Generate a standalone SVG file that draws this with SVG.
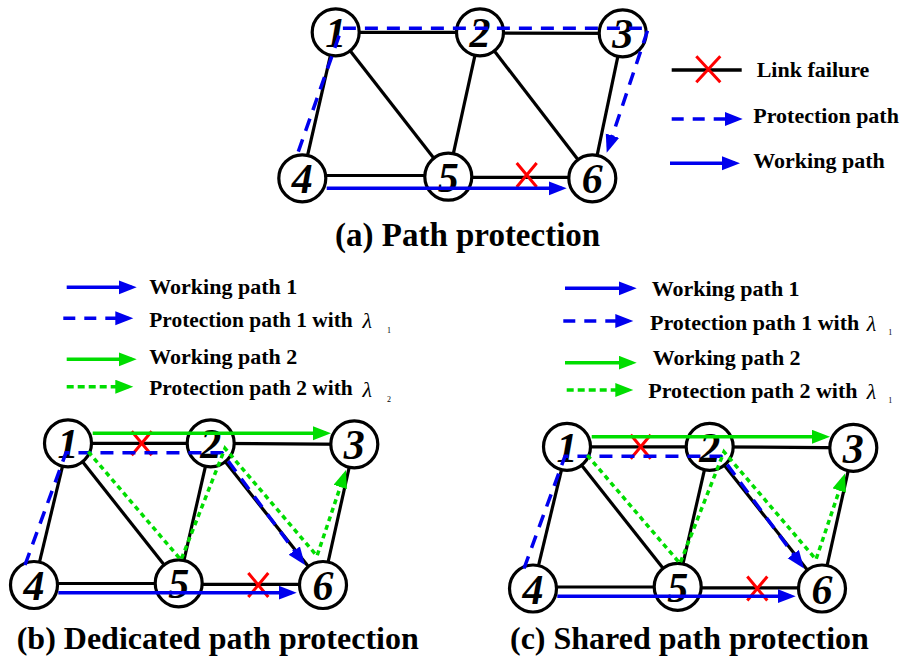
<svg xmlns="http://www.w3.org/2000/svg" width="904" height="657" viewBox="0 0 904 657" font-family="'Liberation Serif', 'Times New Roman', Times, 'DejaVu Serif', serif">
<defs>
<style>
.edge{stroke:#000;stroke-width:3.2;fill:none}
.node circle{fill:#fff;stroke:#000;stroke-width:3.2}
.node text{font-weight:bold;font-style:italic;font-size:42px;text-anchor:middle}
.wp1{stroke:#0000ee;stroke-width:3.5;fill:none}
.pp1{stroke:#0000ee;stroke-width:3.5;fill:none;stroke-dasharray:13 9}
.wp2{stroke:#00dd00;stroke-width:3.5;fill:none}
.pp2{stroke:#00dd00;stroke-width:3.5;fill:none;stroke-dasharray:5 4}
.lpp1{stroke:#0000ee;stroke-width:3.5;fill:none;stroke-dasharray:12 9}
.lpp2{stroke:#00dd00;stroke-width:3.5;fill:none;stroke-dasharray:7 4}
.fail{stroke:#ff0000;stroke-width:3;fill:none}
.lg{font-weight:bold;font-size:22px;fill:#000}
.lgs{font-weight:bold;font-size:21.4px;fill:#000}
.lam{font-style:italic;font-size:22px;fill:#000}
.sub{font-size:8px;fill:#000}
.title{font-weight:bold;font-size:32px;fill:#000}
</style>
<marker id="ab" markerUnits="userSpaceOnUse" markerWidth="20" markerHeight="16" refX="13" refY="7" orient="auto">
<path d="M0,0 L18,7 L0,14 z" fill="#0000ee"/>
</marker>
<marker id="ag" markerUnits="userSpaceOnUse" markerWidth="20" markerHeight="16" refX="13" refY="7" orient="auto">
<path d="M0,0 L18,7 L0,14 z" fill="#00dd00"/>
</marker>
</defs>

<!-- (a) Path protection -->
<g id="diagram-a">
<g id="a-links">
<line class="edge" x1="335.7" y1="32.3" x2="480" y2="32.3"/>
<line class="edge" x1="480" y1="33" x2="622.7" y2="33.3"/>
<line class="edge" x1="335.7" y1="32.3" x2="302.3" y2="178.3"/>
<line class="edge" x1="335.7" y1="32.3" x2="448.3" y2="176.7"/>
<line class="edge" x1="480" y1="32.3" x2="448.3" y2="176.7"/>
<line class="edge" x1="480" y1="32.3" x2="592.3" y2="178.3"/>
<line class="edge" x1="622.7" y1="33.3" x2="592.3" y2="178.3"/>
<line class="edge" x1="302.3" y1="175.5" x2="448.3" y2="175.5"/>
<line class="edge" x1="448.3" y1="177.3" x2="592.3" y2="177.3"/>
</g>
<g id="a-n1" class="node"><circle cx="335.7" cy="32.3" r="23.5"/><text x="335.7" y="47.3">1</text></g>
<g id="a-n2" class="node"><circle cx="480" cy="32.3" r="23.5"/><text x="480" y="47.3">2</text></g>
<g id="a-n3" class="node"><circle cx="622.7" cy="33.3" r="23.5"/><text x="622.7" y="48.3">3</text></g>
<g id="a-n4" class="node"><circle cx="302.3" cy="178.3" r="23.5"/><text x="302.3" y="193.3">4</text></g>
<g id="a-n5" class="node"><circle cx="448.3" cy="176.7" r="23.5"/><text x="448.3" y="191.7">5</text></g>
<g id="a-n6" class="node"><circle cx="592.3" cy="178.3" r="23.5"/><text x="592.3" y="193.3">6</text></g>
<g id="a-paths">
<path class="fail" d="M516.7,163 L536.7,187 M536.7,163 L516.7,187"/>
<path class="pp1" d="M298.3,151.7 L341.7,28.3 L648.3,28.3 L608.3,148" marker-end="url(#ab)"/>
<path class="wp1" d="M326.7,188.3 L561.7,188.3" marker-end="url(#ab)"/>
</g>
</g>

<g id="legend-a">
<line x1="671.7" y1="70" x2="741.7" y2="70" stroke="#000" stroke-width="3.5"/>
<path class="fail" d="M696.3,56.3 L720.3,82.3 M720.3,56.3 L696.3,82.3"/>
<text class="lg" x="756.7" y="76.7">Link failure</text>
<path class="lpp1" d="M671.7,119 H737.7" marker-end="url(#ab)"/>
<text class="lg" x="753.3" y="123.3">Protection path</text>
<path class="wp1" d="M670,163.3 H735" marker-end="url(#ab)"/>
<text class="lg" x="753.3" y="168.3">Working path</text>
</g>
<text class="title" x="335" y="246" style="font-size:33px">(a) Path protection</text>

<!-- (b) legend -->
<g id="legend-b">
<path class="wp1" d="M66.7,287.3 H131.7" marker-end="url(#ab)"/>
<text class="lg" x="149.3" y="294">Working path 1</text>
<path class="lpp1" d="M63.3,318.3 H128.3" marker-end="url(#ab)"/>
<text class="lgs" x="149.3" y="327">Protection path 1 with</text>
<text class="lam" x="362.5" y="328">λ</text><text class="sub" x="387" y="333">1</text>
<path class="wp2" d="M66.7,359.3 H131.7" marker-end="url(#ag)"/>
<text class="lg" x="149.3" y="363.5">Working path 2</text>
<path class="lpp2" d="M66.7,386.7 H128.3" marker-end="url(#ag)"/>
<text class="lgs" x="149.3" y="395">Protection path 2 with</text>
<text class="lam" x="362.5" y="397">λ</text><text class="sub" x="387" y="401.5">2</text>
</g>

<!-- (b) Dedicated path protection -->
<g id="diagram-b">
<g id="b-links">
<line class="edge" x1="68" y1="443.3" x2="210.7" y2="443.3"/>
<line class="edge" x1="210.7" y1="443.3" x2="354.3" y2="444.3"/>
<line class="edge" x1="68" y1="443.3" x2="34" y2="585"/>
<line class="edge" x1="68" y1="443.3" x2="178.7" y2="583.3"/>
<line class="edge" x1="210.7" y1="443.3" x2="178.7" y2="583.3"/>
<line class="edge" x1="210.7" y1="443.3" x2="323" y2="585"/>
<line class="edge" x1="354.3" y1="444.3" x2="323" y2="585"/>
<line class="edge" x1="34" y1="583.5" x2="178.7" y2="583.5"/>
<line class="edge" x1="178.7" y1="584.3" x2="323" y2="584.3"/>
</g>
<g id="b-n1" class="node"><circle cx="68" cy="443.3" r="23.5"/><text x="68" y="458.3">1</text></g>
<g id="b-n2" class="node"><circle cx="210.7" cy="443.3" r="23.5"/><text x="210.7" y="458.3">2</text></g>
<g id="b-n3" class="node"><circle cx="354.3" cy="444.3" r="23.5"/><text x="354.3" y="459.3">3</text></g>
<g id="b-n4" class="node"><circle cx="34" cy="585" r="23.5"/><text x="34" y="600">4</text></g>
<g id="b-n5" class="node"><circle cx="178.7" cy="583.3" r="23.5"/><text x="178.7" y="598.3">5</text></g>
<g id="b-n6" class="node"><circle cx="323" cy="585" r="23.5"/><text x="323" y="600">6</text></g>
<g id="b-paths">
<path class="fail" d="M131.7,431.3 L151.7,455.3 M151.7,431.3 L131.7,455.3"/>
<path class="fail" d="M248.3,573 L268.3,597 M268.3,573 L248.3,597"/>
<path class="wp2" d="M92.7,433.3 H326" marker-end="url(#ag)"/>
<path class="pp1" d="M25,565 L66,452.7 L222,452.7 L302,561" marker-end="url(#ab)"/>
<path class="pp2" d="M88.3,451.7 L181,560 L225,448.3 L317,556 L344.4,474.7" marker-end="url(#ag)"/>
<path class="wp1" d="M58.3,592.7 H291.7" marker-end="url(#ab)"/>
</g>
</g>
<text class="title" x="16.7" y="649">(b) Dedicated path protection</text>

<!-- (c) legend -->
<g id="legend-c">
<path class="wp1" d="M565,288.3 H631.7" marker-end="url(#ab)"/>
<text class="lg" x="651.7" y="296">Working path 1</text>
<path class="lpp1" d="M563.3,321 H628.3" marker-end="url(#ab)"/>
<text class="lg" x="650" y="330">Protection path 1 with</text>
<text class="lam" x="866.7" y="331">λ</text><text class="sub" x="888.3" y="335">1</text>
<path class="wp2" d="M565,362.7 H631.7" marker-end="url(#ag)"/>
<text class="lg" x="652.7" y="365">Working path 2</text>
<path class="lpp2" d="M566.7,390 H628.3" marker-end="url(#ag)"/>
<text class="lg" x="648.3" y="398.3">Protection path 2 with</text>
<text class="lam" x="866.7" y="399">λ</text><text class="sub" x="888.3" y="403.3">1</text>
</g>

<!-- (c) Shared path protection -->
<g id="diagram-c" transform="translate(499,3.5)">
<g id="c-links">
<line class="edge" x1="68" y1="443.3" x2="210.7" y2="443.3"/>
<line class="edge" x1="210.7" y1="443.3" x2="354.3" y2="444.3"/>
<line class="edge" x1="68" y1="443.3" x2="34" y2="585"/>
<line class="edge" x1="68" y1="443.3" x2="178.7" y2="583.3"/>
<line class="edge" x1="210.7" y1="443.3" x2="178.7" y2="583.3"/>
<line class="edge" x1="210.7" y1="443.3" x2="323" y2="585"/>
<line class="edge" x1="354.3" y1="444.3" x2="323" y2="585"/>
<line class="edge" x1="34" y1="583.5" x2="178.7" y2="583.5"/>
<line class="edge" x1="178.7" y1="584.3" x2="323" y2="584.3"/>
</g>
<g id="c-n1" class="node"><circle cx="68" cy="443.3" r="23.5"/><text x="68" y="458.3">1</text></g>
<g id="c-n2" class="node"><circle cx="210.7" cy="443.3" r="23.5"/><text x="210.7" y="458.3">2</text></g>
<g id="c-n3" class="node"><circle cx="354.3" cy="444.3" r="23.5"/><text x="354.3" y="459.3">3</text></g>
<g id="c-n4" class="node"><circle cx="34" cy="585" r="23.5"/><text x="34" y="600">4</text></g>
<g id="c-n5" class="node"><circle cx="178.7" cy="583.3" r="23.5"/><text x="178.7" y="598.3">5</text></g>
<g id="c-n6" class="node"><circle cx="323" cy="585" r="23.5"/><text x="323" y="600">6</text></g>
<g id="c-paths">
<path class="fail" d="M131.7,431.3 L151.7,455.3 M151.7,431.3 L131.7,455.3"/>
<path class="fail" d="M248.3,573 L268.3,597 M268.3,573 L248.3,597"/>
<path class="wp2" d="M92.7,433.3 H326" marker-end="url(#ag)"/>
<path class="pp1" d="M25,565 L66,452.7 L222,452.7 L302,561" marker-end="url(#ab)"/>
<path class="pp2" d="M88.3,451.7 L181,560 L225,448.3 L317,556 L344.4,474.7" marker-end="url(#ag)"/>
<path class="wp1" d="M58.3,592.7 H291.7" marker-end="url(#ab)"/>
</g>
</g>
<text class="title" x="510" y="649">(c) Shared path protection</text>
</svg>
